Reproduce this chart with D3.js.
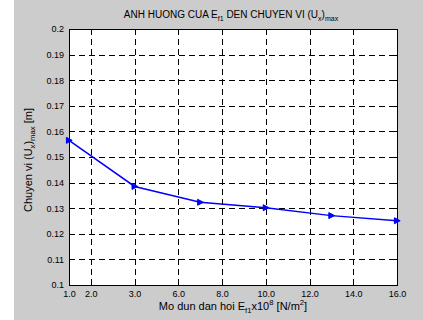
<!DOCTYPE html>
<html>
<head>
<meta charset="utf-8">
<script src="https://cdn.jsdelivr.net/npm/d3@7"></script>
<style>
  body { margin: 0; background: #fff; }
  text { font-family: "Liberation Sans", Arial, Helvetica, sans-serif; fill: #000; }
</style>
</head>
<body>
<svg id="chart" width="423" height="320"></svg>
<script>
// Elastic modulus E11 (x10^8 N/m^2) and maximum displacement (Ux)max [m]
const modulus = [1, 4, 7, 10, 13, 16];
const displacement = [0.1565, 0.1385, 0.1323, 0.1302, 0.1271, 0.1251];

// Tick positions and their printed labels
const xTickValues = [1, 2, 4, 6, 8, 10, 12, 14, 16];
const xTickLabels = ["1.0", "2.0", "3.0", "6.0", "8.0", "10.0", "12.0", "14.0", "16.0"];
const yTickValues = [0.1, 0.11, 0.12, 0.13, 0.14, 0.15, 0.16, 0.17, 0.18, 0.19, 0.2];
const yTickLabels = ["0.1", "0.11", "0.12", "0.13", "0.14", "0.15", "0.16", "0.17", "0.18", "0.19", "0.2"];

// Title and axis label pieces (sub = subscript, sup = superscript)
const titleParts = [
  { t: "ANH HUONG CUA E" }, { t: "f1", sub: true },
  { t: " DEN CHUYEN VI (U" }, { t: "x", sub: true }, { t: ")" }, { t: "max", sub: true }
];
const xLabelParts = [
  { t: "Mo dun dan hoi E" }, { t: "f1", sub: true }, { t: "x10" }, { t: "8", sup: true },
  { t: " [N/m" }, { t: "2", sup: true }, { t: "]" }
];
const yLabelParts = [
  { t: "Chuyen vi (U" }, { t: "x", sub: true }, { t: ")" }, { t: "max", sub: true }, { t: "  [m]" }
];

const svg = d3.select("#chart");
const W = 423, H = 320;
const plot = { left: 69, top: 29, right: 397, bottom: 285 };

// Figure background
svg.append("rect").attr("x", 14).attr("y", 0).attr("width", W - 14).attr("height", H)
  .attr("fill", "#cccccc");

const x = d3.scaleLinear().domain([1, 16]).range([plot.left, plot.right]);
const y = d3.scaleLinear().domain([0.1, 0.2]).range([plot.bottom, plot.top]);

// Axes area
svg.append("rect").attr("x", plot.left).attr("y", plot.top)
  .attr("width", plot.right - plot.left).attr("height", plot.bottom - plot.top)
  .attr("fill", "#fff");

// Dashed grid
const grid = svg.append("g").attr("stroke", "#000").attr("stroke-width", 1)
  .attr("stroke-dasharray", "6,4").attr("shape-rendering", "crispEdges");
grid.selectAll("line.v").data(xTickValues.slice(1, -1)).join("line")
  .attr("class", "v")
  .attr("x1", d => Math.round(x(d)) + 0.5).attr("x2", d => Math.round(x(d)) + 0.5)
  .attr("y1", plot.top).attr("y2", plot.bottom);
grid.selectAll("line.h").data(yTickValues.slice(1, -1)).join("line")
  .attr("class", "h")
  .attr("y1", d => Math.round(y(d)) + 0.5).attr("y2", d => Math.round(y(d)) + 0.5)
  .attr("x1", plot.left).attr("x2", plot.right);

// Axes with inward ticks on all four sides
const tickLen = 4;
const fmtX = (d, i) => xTickLabels[i];
const fmtY = (d, i) => yTickLabels[i];

const xAxis = svg.append("g").attr("transform", `translate(0,${plot.bottom})`)
  .call(d3.axisBottom(x).tickValues(xTickValues).tickFormat(fmtX).tickSizeInner(-tickLen).tickSizeOuter(0).tickPadding(6));
const xAxisTop = svg.append("g").attr("transform", `translate(0,${plot.top})`)
  .call(d3.axisTop(x).tickValues(xTickValues).tickFormat("").tickSizeInner(-tickLen).tickSizeOuter(0));
const yAxis = svg.append("g").attr("transform", `translate(${plot.left},0)`)
  .call(d3.axisLeft(y).tickValues(yTickValues).tickFormat(fmtY).tickSizeInner(-tickLen).tickSizeOuter(0).tickPadding(5));
const yAxisRight = svg.append("g").attr("transform", `translate(${plot.right},0)`)
  .call(d3.axisRight(y).tickValues(yTickValues).tickFormat("").tickSizeInner(-tickLen).tickSizeOuter(0));

[xAxis, xAxisTop, yAxis, yAxisRight].forEach(a => {
  a.select(".domain").remove();
  a.selectAll("line").attr("stroke", "#000").attr("shape-rendering", "crispEdges");
  a.selectAll("text").attr("font-family", "Liberation Sans, Arial, sans-serif")
    .attr("font-size", 9).attr("fill", "#000");
});

// Axes box
svg.append("rect").attr("x", plot.left + 0.5).attr("y", plot.top + 0.5)
  .attr("width", plot.right - plot.left).attr("height", plot.bottom - plot.top)
  .attr("fill", "none").attr("stroke", "#000").attr("stroke-width", 1)
  .attr("shape-rendering", "crispEdges");

// Data line
const pts = modulus.map((m, i) => [m, displacement[i]]);
svg.append("path").datum(pts)
  .attr("d", d3.line().x(d => x(d[0])).y(d => y(d[1])))
  .attr("fill", "none").attr("stroke", "#0000ff").attr("stroke-width", 1.5);

// Right-pointing triangle markers
svg.append("g").selectAll("path").data(pts).join("path")
  .attr("transform", d => `translate(${x(d[0])},${y(d[1])})`)
  .attr("d", "M3.2,0 L-2.6,-3 L-2.6,3 Z")
  .attr("fill", "#0000ff").attr("stroke", "#0000ff").attr("stroke-width", 1);

// Text with sub/superscripts
function richText(sel, parts, size) {
  const small = size * 0.7;
  let shift = 0;
  parts.forEach(p => {
    const target = p.sub ? size * 0.3 : p.sup ? -size * 0.38 : 0;
    sel.append("tspan")
      .attr("dy", target - shift)
      .attr("font-size", (p.sub || p.sup) ? small : size)
      .text(p.t);
    shift = target;
  });
}

const title = svg.append("text").attr("x", 231).attr("y", 18.3)
  .attr("text-anchor", "middle").attr("font-size", 10);
richText(title, titleParts, 10);

const xLabel = svg.append("text").attr("x", 233).attr("y", 309.5)
  .attr("text-anchor", "middle").attr("font-size", 11);
richText(xLabel, xLabelParts, 11);

const yLabel = svg.append("text")
  .attr("transform", "translate(31.5,160) rotate(-90)")
  .attr("text-anchor", "middle").attr("font-size", 11);
richText(yLabel, yLabelParts, 11);
</script>
</body>
</html>
